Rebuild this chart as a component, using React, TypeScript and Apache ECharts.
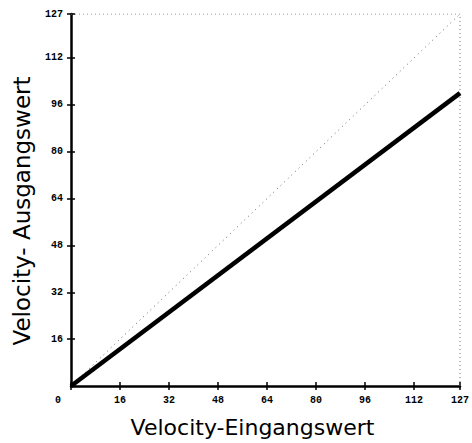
import React, { useEffect, useRef } from "react";
import * as echarts from "echarts";

const xTickValues = [0, 16, 32, 48, 64, 80, 96, 112, 127];
const yTickValues = [16, 32, 48, 64, 80, 96, 112, 127];
const velocityCurve = [
  [0, 0],
  [127, 100],
];
const identityLine = [
  [0, 0],
  [127, 127],
];
const frameLine = [
  [0, 127],
  [127, 127],
  [127, 0],
];

export default function App() {
  const ref = useRef<HTMLDivElement>(null);
  useEffect(() => {
    if (!ref.current) return;
    const chart = echarts.init(ref.current, null, { renderer: "svg" });
    const tickFont = {
      fontFamily: "Liberation Mono",
      fontWeight: "bold" as const,
      fontSize: 10,
      color: "#000",
    };
    const baseX = {
      type: "value" as const,
      min: 0,
      max: 127,
      splitLine: { show: false },
    };
    const baseY = {
      type: "value" as const,
      min: 0,
      max: 127,
      splitLine: { show: false },
    };
    chart.setOption({
      animation: false,
      backgroundColor: "#fff",
      grid: { left: 71, right: 9, top: 14, bottom: 53, containLabel: false },
      xAxis: [
        {
          ...baseX,
          name: "Velocity-Eingangswert",
          nameLocation: "middle",
          nameGap: 30,
          nameTextStyle: {
            fontFamily: "DejaVu Sans",
            fontSize: 22,
            color: "#000",
            padding: [0, 26, 0, 0],
          },
          axisLine: { show: true, lineStyle: { color: "#000", width: 2.5 } },
          axisTick: {
            show: true,
            length: 4,
            inside: false,
            customValues: xTickValues,
            lineStyle: { color: "#000", width: 1.5 },
          },
          axisLabel: {
            ...tickFont,
            margin: 9,
            customValues: xTickValues,
            formatter: (v: number) => (v === 0 ? "{z|0}" : String(v)),
            rich: { z: { ...tickFont, padding: [0, 26, 0, 0] } },
          },
        },
        {
          ...baseX,
          position: "bottom",
          axisLine: { show: false },
          axisLabel: { show: false },
          axisTick: {
            show: true,
            length: 4,
            inside: true,
            customValues: xTickValues,
            lineStyle: { color: "#000", width: 1.5 },
          },
        },
      ],
      yAxis: [
        {
          ...baseY,
          name: "Velocity- Ausgangswert",
          nameLocation: "middle",
          nameGap: 38,
          nameTextStyle: {
            fontFamily: "DejaVu Sans",
            fontSize: 23,
            color: "#000",
            padding: [0, 22, 0, 0],
          },
          axisLine: { show: true, lineStyle: { color: "#000", width: 2.5 } },
          axisTick: {
            show: true,
            length: 4,
            inside: false,
            customValues: yTickValues,
            lineStyle: { color: "#000", width: 1.5 },
          },
          axisLabel: {
            ...tickFont,
            margin: 8,
            customValues: yTickValues,
          },
        },
        {
          ...baseY,
          position: "left",
          axisLine: { show: false },
          axisLabel: { show: false },
          axisTick: {
            show: true,
            length: 4,
            inside: true,
            customValues: yTickValues,
            lineStyle: { color: "#000", width: 1.5 },
          },
        },
      ],
      series: [
        {
          type: "line",
          data: frameLine,
          symbol: "none",
          lineStyle: { color: "#777", width: 1, type: [1, 3] },
        },
        {
          type: "line",
          data: identityLine,
          symbol: "none",
          lineStyle: { color: "#666", width: 1, type: [1, 4] },
        },
        {
          type: "line",
          data: velocityCurve,
          symbol: "none",
          lineStyle: { color: "#000", width: 4.5 },
        },
      ],
    });
    return () => chart.dispose();
  }, []);
  return (
    <div
      ref={ref}
      style={{ position: "fixed", left: 0, top: 0, width: 472, height: 443 }}
    />
  );
}
